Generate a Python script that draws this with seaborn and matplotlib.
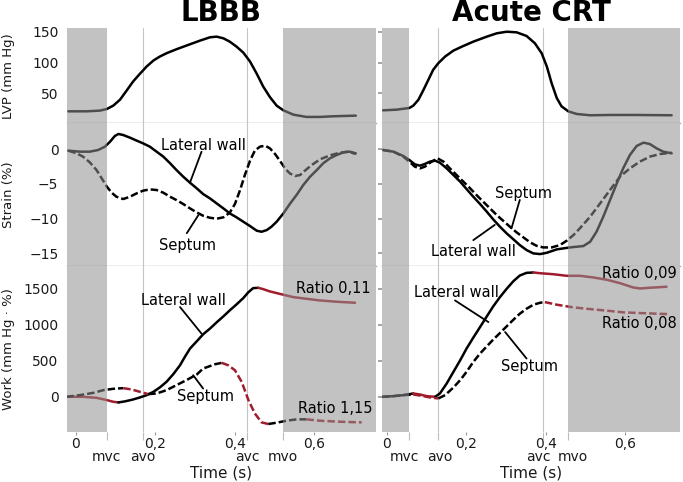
import matplotlib
matplotlib.use("Agg")
import numpy as np
import matplotlib.pyplot as plt
import matplotlib.transforms as mtransforms
import seaborn as sns

# values (time in s)

# ---- LBBB ----
lbbb_lvp_t = [-0.019, 0.027, 0.06, 0.078, 0.094, 0.111, 0.128, 0.144, 0.161, 0.178, 0.195,
              0.211, 0.228, 0.253, 0.278, 0.312, 0.337, 0.354, 0.371, 0.387, 0.404, 0.421,
              0.438, 0.455, 0.471, 0.488, 0.505, 0.522, 0.547, 0.58, 0.614, 0.648, 0.704]
lbbb_lvp = [21.0, 21.0, 22.1, 24.8, 30.2, 39.8, 54.9, 69.4, 81.8, 93.6, 103.3,
            109.7, 115.1, 121.6, 127.5, 135.5, 140.9, 142.0, 139.3, 133.9, 125.9, 116.2,
            101.7, 81.8, 61.3, 44.1, 30.2, 22.6, 15.6, 11.9, 11.9, 13.0, 14.0]

lbbb_lat_strain_t = [-0.019, 0.01, 0.035, 0.056, 0.073, 0.086, 0.098, 0.107, 0.119, 0.136, 0.153,
                     0.169, 0.186, 0.203, 0.22, 0.237, 0.253, 0.27, 0.287, 0.304, 0.32, 0.337,
                     0.354, 0.371, 0.387, 0.404, 0.421, 0.438, 0.455, 0.467, 0.48, 0.492, 0.505,
                     0.522, 0.538, 0.555, 0.572, 0.589, 0.606, 0.622, 0.639, 0.656, 0.673, 0.689,
                     0.704]
lbbb_lat_strain = [-0.2, -0.34, -0.34, -0.1, 0.38, 1.1, 1.92, 2.21, 2.06, 1.68, 1.25,
                   0.86, 0.38, -0.34, -1.06, -2.02, -2.99, -3.95, -4.82, -5.63, -6.45, -7.07,
                   -7.8, -8.52, -9.24, -9.81, -10.44, -11.07, -11.74, -11.89, -11.65, -11.16, -10.44,
                   -9.24, -7.89, -6.59, -5.15, -3.95, -2.99, -2.02, -1.3, -0.82, -0.44, -0.34,
                   -0.58]
lbbb_sep_strain_t = [-0.019, 0.002, 0.018, 0.035, 0.052, 0.065, 0.078, 0.09, 0.102, 0.119, 0.136,
                     0.153, 0.169, 0.186, 0.203, 0.22, 0.237, 0.253, 0.27, 0.287, 0.304, 0.32,
                     0.337, 0.354, 0.371, 0.387, 0.4, 0.413, 0.425, 0.438, 0.45, 0.463, 0.476,
                     0.488, 0.501, 0.513, 0.526, 0.538, 0.551, 0.564, 0.576, 0.593, 0.614, 0.639,
                     0.664, 0.685, 0.704]
lbbb_sep_strain = [-0.2, -0.58, -1.06, -1.88, -2.99, -4.19, -5.39, -6.26, -6.84, -7.17, -6.84,
                   -6.35, -5.97, -5.78, -5.87, -6.26, -6.84, -7.32, -7.89, -8.52, -9.1, -9.58,
                   -9.87, -10.01, -9.81, -9.14, -7.89, -5.87, -3.71, -1.64, -0.2, 0.38, 0.52,
                   0.14, -0.68, -1.64, -2.75, -3.47, -3.85, -3.71, -3.08, -2.27, -1.45, -0.87,
                   -0.49, -0.34, -0.68]

lbbb_lat_work_t = [-0.024, 0.018, 0.052, 0.078, 0.094, 0.107, 0.123, 0.144, 0.161, 0.178, 0.195,
                   0.211, 0.228, 0.245, 0.262, 0.274, 0.287, 0.304, 0.32, 0.337, 0.354, 0.371,
                   0.387, 0.404, 0.421, 0.434, 0.446, 0.459, 0.471, 0.488, 0.505, 0.522, 0.547,
                   0.58, 0.614, 0.656, 0.702]
lbbb_lat_work = [0, 0, -14, -46, -69, -78, -64, -37, -9, 23, 69,
                 129, 208, 314, 438, 553, 669, 770, 867, 945, 1033, 1116,
                 1199, 1282, 1369, 1452, 1508, 1512, 1494, 1462, 1439, 1416, 1383,
                 1360, 1337, 1319, 1305]
lbbb_sep_work_t = [-0.024, 0.01, 0.044, 0.069, 0.094, 0.119, 0.14, 0.161, 0.182, 0.203, 0.228,
                   0.253, 0.278, 0.304, 0.32, 0.35, 0.367, 0.383, 0.4, 0.417, 0.434, 0.45,
                   0.467, 0.484, 0.505, 0.53, 0.555, 0.58, 0.614, 0.664, 0.719]
lbbb_sep_work = [0, 23, 55, 92, 111, 120, 102, 69, 37, 46, 92,
                 162, 231, 309, 392, 452, 471, 438, 369, 208, -46, -230,
                 -355, -378, -359, -332, -313, -313, -332, -346, -355]

# ---- Acute CRT ----
crt_lvp_t = [-0.009, 0.025, 0.057, 0.067, 0.08, 0.092, 0.105, 0.117, 0.13, 0.147, 0.168,
             0.193, 0.218, 0.252, 0.277, 0.302, 0.327, 0.352, 0.373, 0.39, 0.403, 0.415,
             0.428, 0.44, 0.457, 0.478, 0.512, 0.562, 0.629, 0.717]
crt_lvp = [22.6, 23.7, 26.4, 30.2, 39.8, 54.9, 72.1, 88.2, 99.0, 109.7, 119.4,
           126.9, 133.9, 142.0, 147.4, 150.0, 149.0, 143.1, 131.2, 115.1, 93.6, 66.7,
           42.5, 29.1, 21.0, 16.7, 14.6, 15.1, 15.1, 14.6]

crt_lat_strain_t = [-0.009, 0.017, 0.042, 0.057, 0.071, 0.084, 0.096, 0.109, 0.122, 0.134, 0.151,
                    0.168, 0.185, 0.201, 0.218, 0.235, 0.252, 0.268, 0.285, 0.302, 0.319, 0.335,
                    0.352, 0.369, 0.386, 0.403, 0.428, 0.461, 0.495, 0.512, 0.528, 0.545, 0.562,
                    0.579, 0.595, 0.612, 0.629, 0.646, 0.662, 0.679, 0.696, 0.717]
crt_lat_strain = [-0.1, -0.34, -0.97, -1.54, -2.17, -2.36, -2.12, -1.78, -1.64, -1.93, -2.75,
                  -3.71, -4.67, -5.73, -6.84, -7.89, -9.0, -10.1, -11.16, -12.13, -12.99, -13.81,
                  -14.53, -15.01, -15.11, -14.92, -14.43, -14.15, -13.95, -13.33, -11.89, -9.72, -7.32,
                  -4.91, -2.75, -0.82, 0.48, 0.96, 0.76, 0.14, -0.34, -0.58]
crt_sep_strain_t = [-0.009, 0.017, 0.042, 0.057, 0.071, 0.084, 0.096, 0.113, 0.128, 0.143, 0.159,
                    0.176, 0.193, 0.21, 0.226, 0.243, 0.26, 0.277, 0.293, 0.31, 0.327, 0.344,
                    0.361, 0.377, 0.394, 0.415, 0.436, 0.453, 0.47, 0.486, 0.512, 0.537, 0.562,
                    0.587, 0.612, 0.637, 0.662, 0.688, 0.717]
crt_sep_strain = [-0.1, -0.34, -1.06, -1.78, -2.51, -2.75, -2.51, -1.78, -1.3, -1.78, -2.75,
                  -3.71, -4.67, -5.63, -6.59, -7.56, -8.52, -9.48, -10.3, -11.16, -11.98, -12.7,
                  -13.42, -13.91, -14.15, -14.15, -13.81, -13.18, -12.37, -11.4, -9.72, -7.8, -5.87,
                  -3.95, -2.75, -1.78, -1.06, -0.68, -0.49]

crt_lat_work_t = [-0.011, 0.017, 0.042, 0.067, 0.084, 0.101, 0.122, 0.134, 0.151, 0.168, 0.185,
                  0.201, 0.218, 0.235, 0.252, 0.268, 0.285, 0.302, 0.319, 0.335, 0.352, 0.369,
                  0.386, 0.419, 0.453, 0.486, 0.52, 0.554, 0.587, 0.62, 0.637, 0.662, 0.704]
crt_lat_work = [0, 9, 23, 46, 32, 9, 0, 46, 184, 346, 507,
                669, 821, 968, 1116, 1254, 1383, 1499, 1605, 1683, 1720, 1725,
                1715, 1701, 1679, 1679, 1656, 1624, 1577, 1517, 1503, 1513, 1527]
crt_sep_work_t = [-0.011, 0.017, 0.042, 0.067, 0.088, 0.109, 0.13, 0.147, 0.168, 0.185, 0.201,
                  0.218, 0.235, 0.252, 0.268, 0.285, 0.302, 0.319, 0.335, 0.352, 0.369, 0.386,
                  0.398, 0.428, 0.469, 0.512, 0.554, 0.595, 0.637, 0.679, 0.708]
crt_sep_work = [0, 9, 23, 32, 14, -9, -23, 23, 129, 231, 346,
                484, 600, 701, 793, 885, 978, 1070, 1153, 1222, 1277, 1305,
                1314, 1278, 1241, 1217, 1195, 1172, 1162, 1153, 1148]

# valve events: mvc, avo, avc, mvo
event_names = ["mvc", "avo", "avc", "mvo"]
lbbb_events = [0.078, 0.168, 0.431, 0.52]
crt_events = [0.057, 0.128, 0.394, 0.455]

# time spans where the work curves are drawn red (work falling)
lbbb_lat_red = [(-0.1, 0.1065), (0.4587, 0.8)]
lbbb_sep_red = [(0.119, 0.182), (0.367, 0.484), (0.58, 0.8)]
crt_lat_red = [(0.067, 0.122), (0.369, 0.8)]
crt_sep_red = [(0.067, 0.13), (0.398, 0.8)]

RED = "#a01c2c"

sns.set_theme(style="white")
plt.rcParams["font.family"] = ["DejaVu Sans"]

fig = plt.figure(figsize=(6.83, 4.82), dpi=100)


def draw_curve(ax, t, y, dashed=False, red_spans=()):
    t = np.asarray(t, dtype=float)
    y = np.asarray(y, dtype=float)
    mid = (t[:-1] + t[1:]) / 2
    is_red = [any(a <= m <= b for a, b in red_spans) for m in mid]
    ls = (0, (3, 1.2)) if dashed else "-"
    start = 0
    for i in range(1, len(mid) + 1):
        if i == len(mid) or is_red[i] != is_red[start]:
            sns.lineplot(x=t[start:i + 1], y=y[start:i + 1], ax=ax,
                         color=RED if is_red[start] else "black",
                         linewidth=1.8, linestyle=ls, estimator=None, sort=False)
            start = i


def note(ax, txt, xy, line=None):
    ax.text(xy[0], xy[1], txt, ha="center", va="center", fontsize=10.5, color="black", zorder=6)
    if line is not None:
        (x0, y0), (x1, y1) = line
        ax.plot([x0, x1], [y0, y1], color="black", lw=1.3, zorder=6)


rows = [(0.7442, 0.1977), (0.4471, 0.2971), (0.1044, 0.3427)]
cols = [(0.0977, 0.4529, (-0.023, 0.755), lbbb_events, "LBBB", [0, 0, 0, 0]),
        (0.5597, 0.4359, (-0.011, 0.738), crt_events, "Acute CRT", [-5, 2, -5, 5])]
ylims = [(1.6, 156), (-16.9, 3.75), (-484, 1808)]
yticks = [[50, 100, 150], [0, -5, -10, -15], [0, 500, 1000, 1500]]
ylabels = ["LVP (mm Hg)", "Strain (%)", "Work (mm Hg · %)"]

curves = [
    [(lbbb_lvp_t, lbbb_lvp, False, ())],
    [(lbbb_lat_strain_t, lbbb_lat_strain, False, ()),
     (lbbb_sep_strain_t, lbbb_sep_strain, True, ())],
    [(lbbb_lat_work_t, lbbb_lat_work, False, lbbb_lat_red),
     (lbbb_sep_work_t, lbbb_sep_work, True, lbbb_sep_red)],
], [
    [(crt_lvp_t, crt_lvp, False, ())],
    [(crt_lat_strain_t, crt_lat_strain, False, ()),
     (crt_sep_strain_t, crt_sep_strain, True, ())],
    [(crt_lat_work_t, crt_lat_work, False, crt_lat_red),
     (crt_sep_work_t, crt_sep_work, True, crt_sep_red)],
]

axes = [[None] * 3, [None] * 3]
for c, (left, width, xlim, ev, title, shifts) in enumerate(cols):
    for r, (bottom, height) in enumerate(rows):
        ax = fig.add_axes([left, bottom, width, height])
        axes[c][r] = ax
        for t, y, dashed, spans in curves[c][r]:
            draw_curve(ax, t, y, dashed, spans)
        ax.set_xlim(*xlim)
        ax.set_ylim(*ylims[r])
        # shaded filling phases drawn over the curves
        ax.axvspan(xlim[0], ev[0], color="#909090", alpha=0.55, lw=0, zorder=3)
        ax.axvspan(ev[3], xlim[1], color="#909090", alpha=0.55, lw=0, zorder=3)
        ax.axvline(ev[1], color="#c4c4c4", lw=0.8, zorder=1)
        ax.axvline(ev[2], color="#c4c4c4", lw=0.8, zorder=1)
        for s in ["left", "right", "top", "bottom"]:
            ax.spines[s].set_visible(False)
        if r < 2:
            ax.spines["bottom"].set_visible(True)
            ax.spines["bottom"].set_color("#a8a8a8")
            ax.spines["bottom"].set_linewidth(1.0)
            ax.spines["bottom"].set_zorder(2)
        ax.set_yticks(yticks[r])
        if c == 0:
            ax.tick_params(axis="y", left=True, length=0, pad=6, labelsize=10, labelcolor="#1a1a1a")
            ax.set_ylabel(ylabels[r], fontsize=9.5, color="#1a1a1a")
            ax.yaxis.set_label_coords(-0.167, 0.5)
        else:
            ax.tick_params(axis="y", left=True, length=3, color="#999999", labelleft=False)
            ax.set_ylabel("")
        if r < 2:
            ax.set_xticks([])
            ax.set_xlabel("")
        else:
            ax.set_xticks([0, 0.2, 0.4, 0.6])
            ax.set_xticklabels(["0", "0,2", "0,4", "0,6"])
            ax.set_xticks(ev, minor=True)
            ax.set_xticklabels(event_names, minor=True)
            ax.tick_params(axis="x", which="major", bottom=True, length=2.5, width=0.8,
                           color="#999999", pad=1.5, labelsize=10, labelcolor="#1a1a1a")
            ax.tick_params(axis="x", which="minor", bottom=True, length=5.5, width=0.8,
                           color="#bbbbbb", pad=7.5, labelsize=10, labelcolor="#1a1a1a")
            for lab, dx in zip(ax.get_xticklabels(minor=True), shifts):
                lab.set_transform(lab.get_transform() +
                                  mtransforms.ScaledTranslation(dx / 100, 0, fig.dpi_scale_trans))
            ax.set_xlabel("Time (s)", fontsize=11, color="#1a1a1a")
            ax.xaxis.set_label_coords(0.5, -0.205)
    fig.text(left + width / 2, 0.974, title, ha="center", va="center",
             fontsize=20, fontweight="bold", color="black")

# labels on the curves
note(axes[0][1], "Lateral wall", (0.322, 0.6), ((0.316, -0.35), (0.287, -4.8)))
note(axes[0][1], "Septum", (0.282, -13.8), ((0.279, -12.1), (0.308, -9.5)))
note(axes[1][1], "Septum", (0.344, -6.35), ((0.335, -7.3), (0.314, -11.4)))
note(axes[1][1], "Lateral wall", (0.218, -14.8), ((0.218, -13.1), (0.272, -10.9)))
note(axes[0][2], "Lateral wall", (0.27, 1337), ((0.262, 1245), (0.316, 877)))
note(axes[0][2], "Septum", (0.325, 0), ((0.32, 115), (0.295, 300)))
note(axes[0][2], "Ratio 0,11", (0.647, 1500))
note(axes[0][2], "Ratio 1,15", (0.652, -160))
note(axes[1][2], "Lateral wall", (0.176, 1452), ((0.172, 1337), (0.256, 1037)))
note(axes[1][2], "Septum", (0.36, 415), ((0.352, 531), (0.298, 899)))
note(axes[1][2], "Ratio 0,09", (0.637, 1706))
note(axes[1][2], "Ratio 0,08", (0.637, 1015))

fig.savefig("out.png", dpi=100)
